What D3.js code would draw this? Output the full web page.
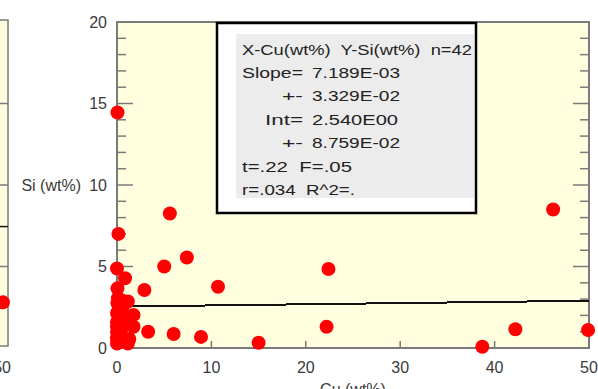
<!DOCTYPE html>
<html>
<head>
<meta charset="utf-8">
<script src="https://cdn.jsdelivr.net/npm/d3@7"></script>
<style>
  html, body { margin: 0; padding: 0; background: #fff; }
  svg { display: block; font-family: "Liberation Sans", Arial, sans-serif; }
</style>
</head>
<body>
<svg id="chart" width="598" height="389"></svg>
<script>
// Cu vs Si (wt%) scatter with least-squares fit
const cuValues = [0.05, 5.6, 0.15, 0.0, 0.85, 5.0, 7.4, 0.05, 2.9, 10.7,
                  0.05, 1.15, 0.0, 1.75, 1.75, 0.0, 3.3, 6.0, 8.9, 15.0,
                  0.0, 1.15, 22.4, 22.2, 38.7, 42.2, 49.9, 46.2,
                  0.0, 0.3, 0.6, 0.0, 0.9, 0.2, 0.5, 1.3, 0.0, 0.4,
                  0.8, 0.1, 0.6, 1.0];
const siValues = [14.45, 8.25, 7.0, 4.88, 4.28, 5.0, 5.55, 3.66, 3.56, 3.76,
                  2.75, 2.85, 2.15, 2.03, 1.3, 0.98, 1.0, 0.86, 0.68, 0.32,
                  0.28, 0.28, 4.85, 1.3, 0.08, 1.15, 1.1, 8.5,
                  1.6, 1.9, 2.5, 0.6, 1.75, 2.35, 1.2, 0.55, 1.3, 0.8,
                  0.45, 3.05, 2.9, 1.55];
const xTicks = [0, 10, 20, 30, 40, 50];
const yTicks = [0, 5, 10, 15, 20];
const yMinorTicks = d3.range(0, 21, 1);

// Regression summary
const fitSlope = 7.189e-3;
const fitIntercept = 2.540;
const statHeader = "X-Cu(wt%)  Y-Si(wt%)  n=42";
const statLabels = ["Slope=", "+-", "Int=", "+-"];
const statValues = ["7.189E-03", "3.329E-02", "2.540E00", "8.759E-02"];
const statFooter = ["t=.22  F=.05", "r=.034  R^2=."];

const svg = d3.select("#chart");
const plot = { left: 117, right: 589, top: 22, bottom: 348 };
const x = d3.scaleLinear().domain([0, 50]).range([plot.left, plot.right]);
const y = d3.scaleLinear().domain([0, 20]).range([plot.bottom, plot.top]);

const axisGrey = "#7a7a7a";
const labelColor = "#3a3a3a";
const panelFill = "#FFFFE0";

// Neighbouring panel at the left edge (only its right border is in view)
const leftPanel = svg.append("g");
leftPanel.append("rect").attr("x", -20).attr("y", 20).attr("width", 28).attr("height", 326)
  .attr("fill", panelFill).attr("stroke", axisGrey).attr("stroke-width", 1.5);
leftPanel.selectAll("line.lt").data([5, 10, 15]).join("line")
  .attr("x1", 0).attr("x2", 8).attr("y1", d => y(d)).attr("y2", d => y(d))
  .attr("stroke", axisGrey).attr("stroke-width", 1.5);
leftPanel.append("line").attr("x1", 0).attr("x2", 8).attr("y1", y(7.45)).attr("y2", y(7.45))
  .attr("stroke", "#111").attr("stroke-width", 1.5);
leftPanel.append("circle").attr("cx", 3).attr("cy", y(2.8)).attr("r", 7).attr("fill", "#ff0000");
leftPanel.append("text").attr("x", 11).attr("y", 373).attr("text-anchor", "end")
  .attr("font-size", 16).attr("fill", labelColor).text("50");

// Main panel background
svg.append("rect").attr("x", plot.left).attr("y", plot.top)
  .attr("width", plot.right - plot.left).attr("height", plot.bottom - plot.top)
  .attr("fill", panelFill);

// Y ticks on left and right borders (inside), minor every 1, major every 5
const yTickG = svg.append("g");
yMinorTicks.forEach(v => {
  const major = v % 5 === 0;
  const len = major ? 16 : 9;
  yTickG.append("line").attr("x1", plot.left).attr("x2", plot.left + len)
    .attr("y1", y(v)).attr("y2", y(v)).attr("stroke", axisGrey).attr("stroke-width", 1.5);
  yTickG.append("line").attr("x1", plot.right).attr("x2", plot.right - len)
    .attr("y1", y(v)).attr("y2", y(v)).attr("stroke", axisGrey).attr("stroke-width", 1.5);
});
// X ticks pointing up from the bottom border
svg.append("g").selectAll("line").data(xTicks.slice(1, -1)).join("line")
  .attr("x1", d => x(d)).attr("x2", d => x(d))
  .attr("y1", plot.bottom).attr("y2", plot.bottom - 7)
  .attr("stroke", axisGrey).attr("stroke-width", 1.5);

// Panel border
svg.append("rect").attr("x", plot.left).attr("y", plot.top)
  .attr("width", plot.right - plot.left).attr("height", plot.bottom - plot.top)
  .attr("fill", "none").attr("stroke", axisGrey).attr("stroke-width", 2);

// Tick labels
svg.append("g").selectAll("text").data(yTicks).join("text")
  .attr("x", 107).attr("y", d => y(d)).attr("dy", "0.36em")
  .attr("text-anchor", "end").attr("font-size", 16).attr("fill", labelColor)
  .text(d => d);
svg.append("g").selectAll("text").data(xTicks).join("text")
  .attr("x", d => x(d)).attr("y", 373)
  .attr("text-anchor", "middle").attr("font-size", 16).attr("fill", labelColor)
  .text(d => d);

// Axis titles
svg.append("text").attr("x", 81).attr("y", y(10)).attr("dy", "0.36em")
  .attr("text-anchor", "end").attr("font-size", 16).attr("fill", labelColor).text("Si (wt%)");
svg.append("text").attr("x", x(25)).attr("y", 395)
  .attr("text-anchor", "middle").attr("font-size", 16).attr("fill", labelColor).text("Cu (wt%)");

// Regression line
svg.append("line")
  .attr("x1", x(0)).attr("y1", y(fitIntercept))
  .attr("x2", x(50)).attr("y2", y(fitIntercept + fitSlope * 50))
  .attr("stroke", "#111").attr("stroke-width", 2).attr("shape-rendering", "crispEdges");

// Points
svg.append("g").selectAll("circle").data(cuValues.map((c, i) => [c, siValues[i]])).join("circle")
  .attr("cx", d => x(d[0])).attr("cy", d => y(d[1])).attr("r", 7).attr("fill", "#ff0000");

// Statistics box
const box = svg.append("g");
box.append("rect").attr("x", 217).attr("y", 23).attr("width", 259).attr("height", 190)
  .attr("fill", "#ffffff").attr("stroke", "#000").attr("stroke-width", 2.5);
box.append("rect").attr("x", 236).attr("y", 34).attr("width", 238).attr("height", 164)
  .attr("fill", "#ececec");
const lineY = i => 54.5 + i * 23.4;
const statFont = 15.5;
box.append("text").attr("x", 242).attr("y", lineY(0)).attr("font-size", statFont)
  .attr("fill", "#222").attr("textLength", 230).attr("lengthAdjust", "spacingAndGlyphs")
  .attr("xml:space", "preserve").text(statHeader);
const labelStarts = [242, 282, 265, 282];
statLabels.forEach((t, i) => {
  box.append("text").attr("x", labelStarts[i]).attr("y", lineY(i + 1)).attr("font-size", statFont)
    .attr("fill", "#222").attr("textLength", 303 - labelStarts[i])
    .attr("lengthAdjust", "spacingAndGlyphs").text(t);
});
statValues.forEach((t, i) => {
  box.append("text").attr("x", 312).attr("y", lineY(i + 1)).attr("font-size", statFont)
    .attr("fill", "#222").attr("textLength", t.length === 8 ? 86 : 88)
    .attr("lengthAdjust", "spacingAndGlyphs").text(t);
});
const footerWidths = [110, 113];
statFooter.forEach((t, i) => {
  box.append("text").attr("x", 242).attr("y", lineY(i + 5)).attr("font-size", statFont)
    .attr("fill", "#222").attr("textLength", footerWidths[i])
    .attr("lengthAdjust", "spacingAndGlyphs").attr("xml:space", "preserve").text(t);
});
</script>
</body>
</html>
